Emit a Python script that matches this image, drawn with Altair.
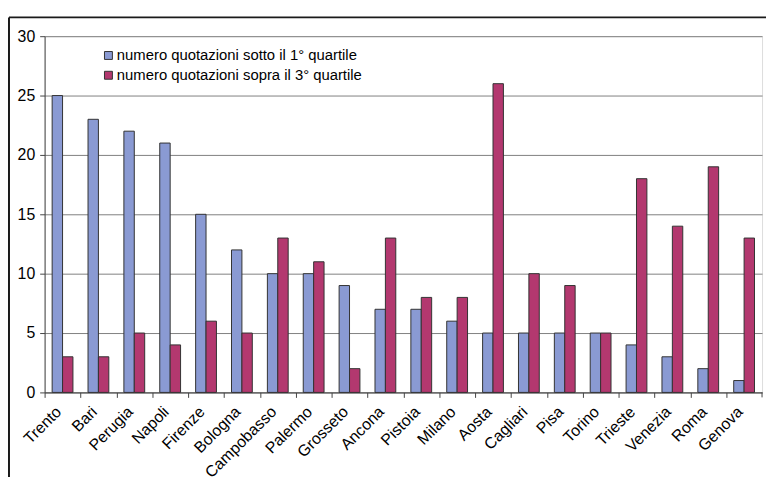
import altair as alt
import pandas as pd

cities = ["Trento", "Bari", "Perugia", "Napoli", "Firenze", "Bologna", "Campobasso",
          "Palermo", "Grosseto", "Ancona", "Pistoia", "Milano", "Aosta", "Cagliari",
          "Pisa", "Torino", "Trieste", "Venezia", "Roma", "Genova"]
sotto = [25, 23, 22, 21, 15, 12, 10, 10, 9, 7, 7, 6, 5, 5, 5, 5, 4, 3, 2, 1]
sopra = [3, 3, 5, 4, 6, 5, 13, 11, 2, 13, 8, 8, 26, 10, 9, 5, 18, 14, 19, 13]
series = ["numero quotazioni sotto il 1° quartile", "numero quotazioni sopra il 3° quartile"]
colors = ["#8A9AD3", "#B3386F"]

rows = []
for c, a, b in zip(cities, sotto, sopra):
    rows.append({"city": c, "serie": series[0], "value": a})
    rows.append({"city": c, "serie": series[1], "value": b})
df = pd.DataFrame(rows)

W, H = 725, 360
step = W / len(cities)
FONT = "Liberation Sans"
FS = 16

bars = alt.Chart(df).mark_bar(stroke="#333333", strokeWidth=1).encode(
    x=alt.X("city:N", sort=cities, title=None,
            scale=alt.Scale(paddingInner=0.42, paddingOuter=0.21),
            axis=alt.Axis(labelAngle=-45, labelFontSize=FS, labelFont=FONT,
                          labelColor="#000000", tickSize=5, tickColor="#444444",
                          tickOffset=-step / 2, labelOffset=step / 2 - 10,
                          domainColor="#444444", labelPadding=6, labelLimit=0)),
    xOffset=alt.XOffset("serie:N", sort=series),
    y=alt.Y("value:Q", title=None,
            scale=alt.Scale(domain=[0, 30], nice=False),
            axis=alt.Axis(values=[0, 5, 10, 15, 20, 25, 30], labelFontSize=FS,
                          labelFont=FONT, labelColor="#000000", tickSize=5,
                          tickColor="#444444", domainColor="#444444",
                          gridColor="#808080", gridOpacity=1, labelPadding=5)),
    color=alt.Color("serie:N", sort=series,
                    scale=alt.Scale(domain=series, range=colors),
                    legend=alt.Legend(title=None, orient="none", legendX=57, legendY=12,
                                      symbolType="square", symbolSize=64,
                                      symbolStrokeColor="#333333", symbolStrokeWidth=1,
                                      symbolOpacity=1,
                                      labelFontSize=15, labelFont=FONT,
                                      labelColor="#000000", labelOffset=1,
                                      labelLimit=0, rowPadding=4)),
)

frame = pd.DataFrame({"k": [0]})
top_line = alt.Chart(frame).mark_rule(color="#1a1a1a", strokeWidth=2).encode(
    x=alt.value(-36), x2=alt.value(760), y=alt.value(-19), y2=alt.value(-19))
left_line = alt.Chart(frame).mark_rule(color="#1a1a1a", strokeWidth=2).encode(
    x=alt.value(-36), x2=alt.value(-36), y=alt.value(-19), y2=alt.value(500))
end_tick = alt.Chart(frame).mark_rule(color="#444444", strokeWidth=1).encode(
    x=alt.value(W), x2=alt.value(W), y=alt.value(H), y2=alt.value(H + 5))

chart = alt.layer(bars, top_line, left_line, end_tick).properties(
    width=W, height=H,
    autosize=alt.AutoSizeParams(type="none"),
    padding={"left": 37, "top": 26, "right": 4, "bottom": 83},
).configure_view(stroke="#a0a0a0", strokeWidth=1).configure(background="white")

chart.save("out.html", embed_options={"renderer": "svg", "actions": False})
